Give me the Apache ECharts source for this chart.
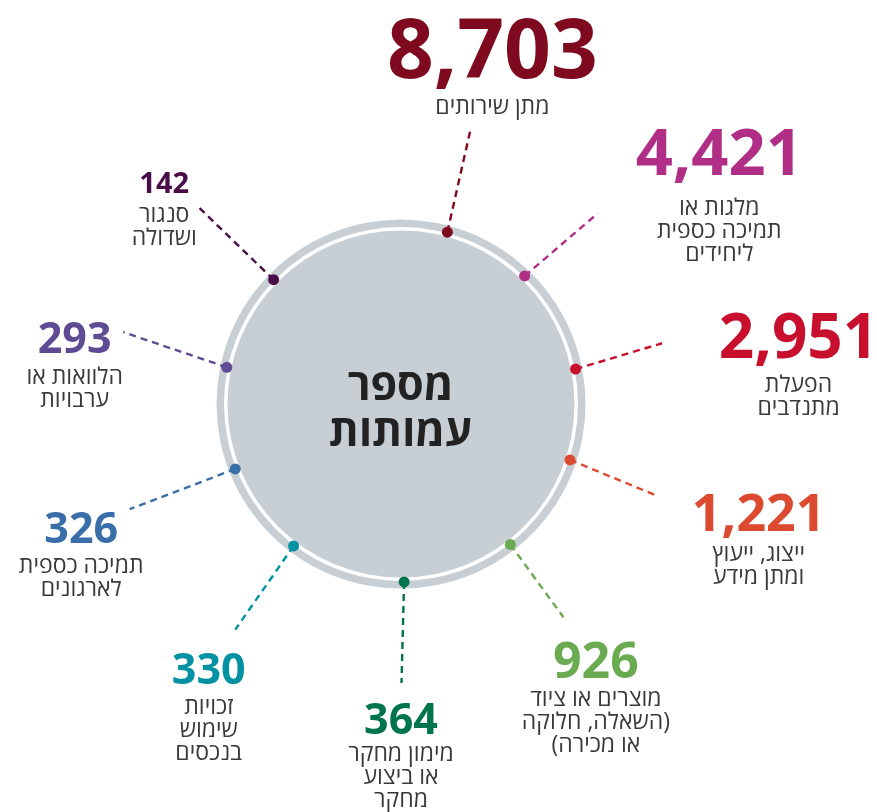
<!DOCTYPE html>
<html>
<head>
<meta charset="utf-8">
<script src="https://cdn.jsdelivr.net/npm/echarts@6/dist/echarts.min.js"></script>
<style>
  html, body { margin: 0; padding: 0; background: #fff; }
  #chart { width: 877px; height: 812px; }
</style>
</head>
<body>
<div id="chart"></div>
<script>
// 数值（按顺时针，从顶部开始）
const values = [8703, 4421, 2951, 1221, 926, 364, 330, 326, 293, 142]
// 类别说明（每行一项）
const categories = [
  ['מתן שירותים'],
  ['מלגות או', 'תמיכה כספית', 'ליחידים'],
  ['הפעלת', 'מתנדבים'],
  ['ייצוג, ייעוץ', 'ומתן מידע'],
  ['מוצרים או ציוד', '\u200F(השאלה, חלוקה', 'או מכירה)\u200F'],
  ['מימון מחקר', 'או ביצוע', 'מחקר'],
  ['זכויות', 'שימוש', 'בנכסים'],
  ['תמיכה כספית', 'לארגונים'],
  ['הלוואות או', 'ערבויות'],
  ['סנגור', 'ושדולה']
]
const colors = ['#7f0a1f', '#b02e86', '#c8102e', '#dc4a2f', '#6aaa50',
  '#00744b', '#0092a3', '#3a6ea8', '#5e4b93', '#4b0d48']
const centerTitle = 'מספר\nעמותות'

// 布局：点角度、虚线终点（半径/角度）、标签偏移、字号
const layout = [
  { a: 15.1, r2: 285, a2: 14.2, dx: 22, by: -48, size: 82, below: 23 },
  { a: 44.0, r2: 274, a2: 45.9, dx: 122, by: -38, size: 65, below: 29 },
  { a: 78.7, r2: 268, a2: 76.9, dx: 137, by: 15, size: 62, below: 23 },
  { a: 108.3, r2: 270, a2: 109.7, dx: 104, by: 35, size: 52, below: 20 },
  { a: 142.1, r2: 268, a2: 142.7, dx: 33, by: 60, size: 50, below: 18 },
  { a: 179.0, r2: 279, a2: 179.9, dx: 0, by: 50, size: 43, below: 17 },
  { a: 217.1, r2: 280, a2: 216.3, dx: -26, by: 53, size: 43, below: 20 },
  { a: 248.6, r2: 291, a2: 248.8, dx: -48, by: 32, size: 43, below: 21 },
  { a: 281.9, r2: 287, a2: 284.5, dx: -48, by: 19, size: 43, below: 22 },
  { a: 314.3, r2: 285, a2: 314.2, dx: -32, by: -15, size: 29, below: 21 }
]

const CENTER = [401, 404]
const DOT_R = 178
const FONT = '"Open Sans", "Liberation Sans", "DejaVu Sans", sans-serif'
const DESC_SIZE = 23
const DESC_LH = 23
const SHIFT = 5

const chart = echarts.init(document.getElementById('chart'), null, { renderer: 'canvas' })

const lineSeries = values.map((v, i) => ({
  type: 'line',
  coordinateSystem: 'polar',
  data: [[DOT_R, layout[i].a], [layout[i].r2, layout[i].a2]],
  showSymbol: false,
  silent: true,
  z: 3,
  lineStyle: { color: colors[i], width: 2.4, type: [7, 5], opacity: 1 }
}))

const labelData = values.map((v, i) => {
  const L = layout[i]
  const lh = 2 * (L.below - DESC_LH / 2) + 0.714 * L.size
  const numCenter = L.by - 0.357 * L.size + SHIFT
  const text = `{n|${v.toLocaleString('en-US')}}\n` +
    categories[i].map(t => `{d|${t}}`).join('\n')
  return {
    value: [L.r2, L.a2],
    label: {
      show: true,
      opacity: 1,
      position: [L.dx, numCenter - lh / 2],
      align: 'center',
      verticalAlign: 'top',
      formatter: text,
      rich: {
        n: {
          fontSize: L.size, fontWeight: 'bold', color: colors[i],
          fontFamily: FONT, lineHeight: lh, align: 'center'
        },
        d: {
          fontSize: DESC_SIZE, color: '#3a3a3a', fontFamily: FONT,
          lineHeight: DESC_LH, align: 'center'
        }
      }
    }
  }
})

// 中心标题
labelData.push({
  value: [0, 0],
  label: {
    show: true,
    position: [0, 7],
    align: 'center',
    verticalAlign: 'middle',
    formatter: centerTitle,
    fontSize: 43,
    fontWeight: 'bold',
    color: '#222',
    fontFamily: FONT,
    lineHeight: 46
  }
})

const option = {
  backgroundColor: '#fff',
  animation: false,
  polar: { center: CENTER, radius: 300 },
  angleAxis: {
    type: 'value', min: 0, max: 360, startAngle: 90, clockwise: true, show: false
  },
  radiusAxis: { type: 'value', min: 0, max: 300, show: false },
  series: [
    {
      type: 'pie',
      center: CENTER,
      radius: [0, 173.5],
      silent: true,
      z: 1,
      data: [{ value: 1, name: 'disc' }],
      itemStyle: { color: '#c7cfd5' },
      label: { show: false },
      labelLine: { show: false },
      emphasis: { disabled: true }
    },
    {
      type: 'pie',
      center: CENTER,
      radius: [177, 184.5],
      silent: true,
      z: 1,
      data: [{ value: 1, name: 'ring' }],
      itemStyle: { color: '#c7cfd5' },
      label: { show: false },
      labelLine: { show: false },
      emphasis: { disabled: true }
    },
    ...lineSeries,
    {
      type: 'scatter',
      coordinateSystem: 'polar',
      symbolSize: 11,
      silent: true,
      z: 5,
      data: values.map((v, i) => ({
        value: [DOT_R, layout[i].a],
        itemStyle: { color: colors[i], opacity: 1 }
      }))
    },
    {
      type: 'scatter',
      coordinateSystem: 'polar',
      symbolSize: 1,
      silent: true,
      z: 6,
      itemStyle: { color: 'rgba(0,0,0,0)', opacity: 1 },
      data: labelData
    }
  ]
}

chart.setOption(option)
</script>
</body>
</html>
